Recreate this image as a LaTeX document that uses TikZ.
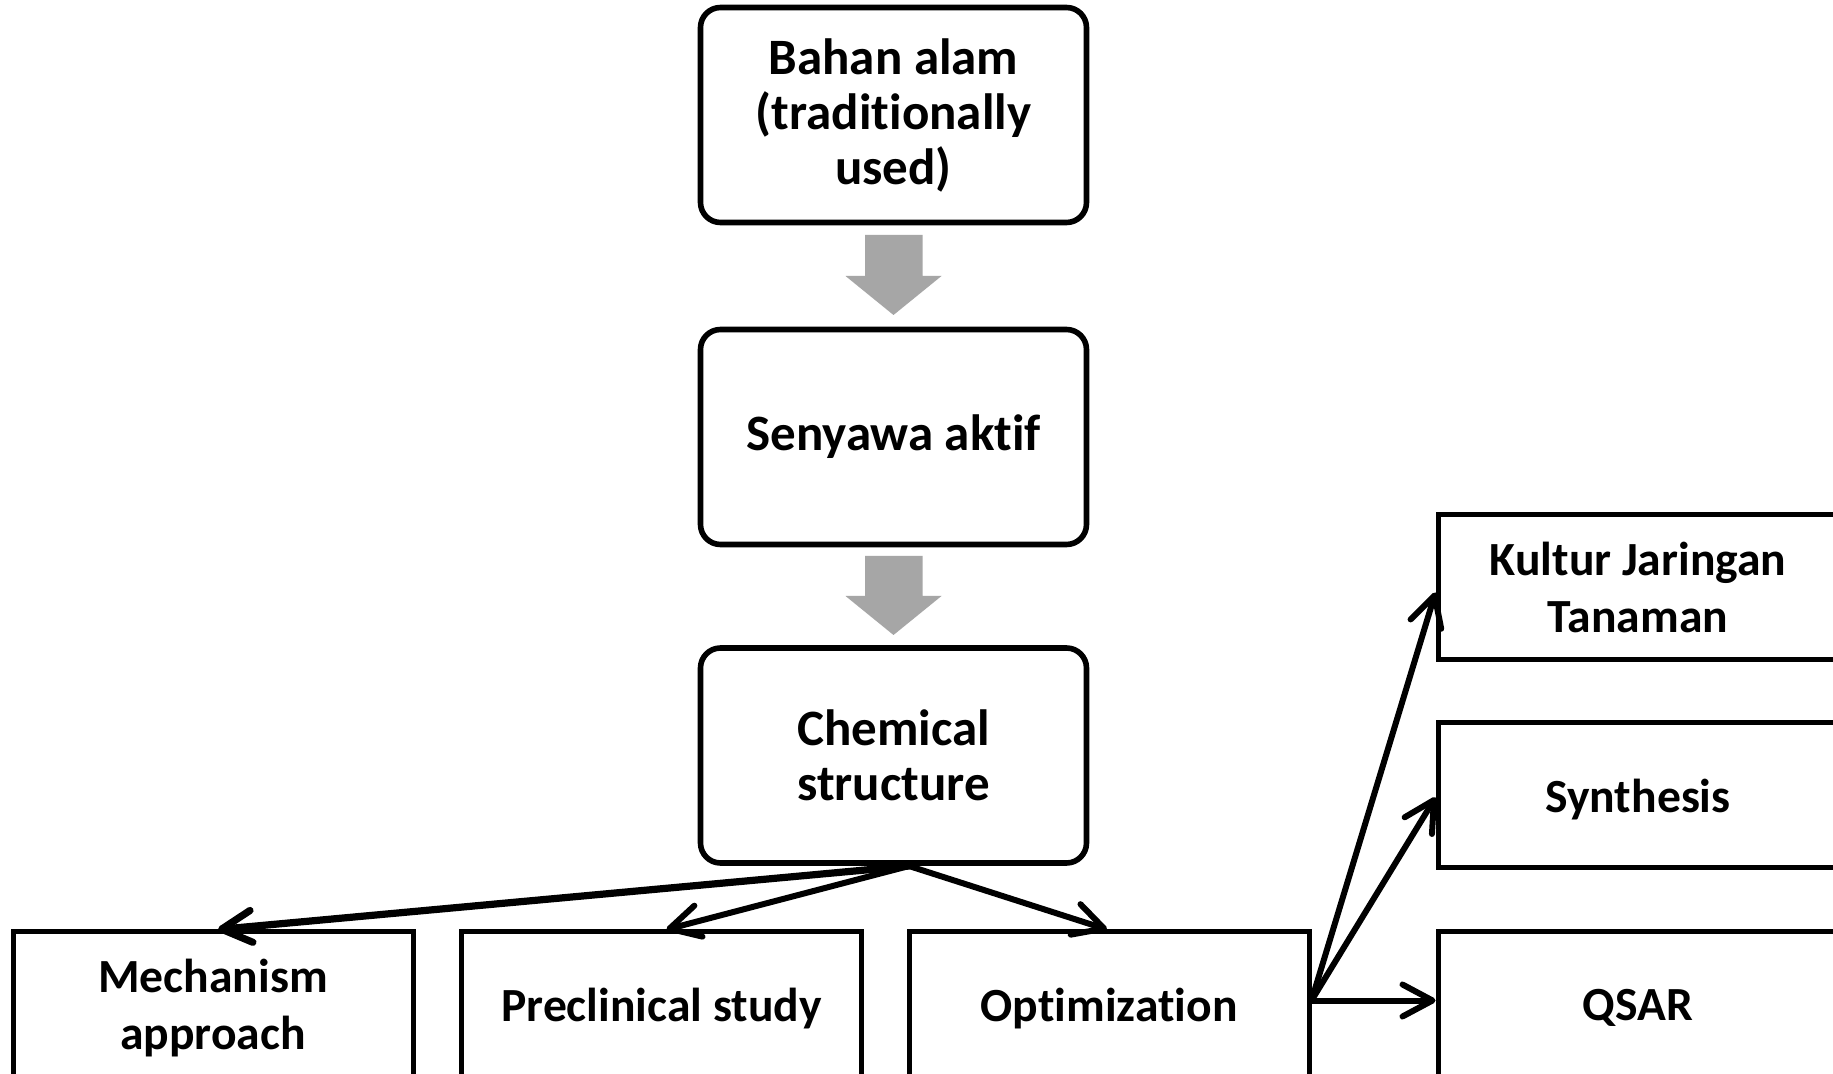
\documentclass[tikz,border=0pt]{standalone}
\usepackage{fontspec}
\setmainfont{Carlito}[Ligatures=NoCommon]
\usetikzlibrary{arrows.meta}
\definecolor{blockgray}{HTML}{A6A6A6}
\tikzset{
  txt/.style={font=\fontsize{25.5}{27.5}\selectfont\bfseries, align=center, inner sep=0pt},
  rbox/.style={txt, draw=black, line width=2.8pt, rounded corners=10pt,
               minimum width=193pt, minimum height=107.5pt},
  sbox/.style={txt, font=\fontsize{23.8}{28.5}\selectfont\bfseries, text depth=0pt,
               draw=black, line width=2.5pt,
               minimum width=200pt, minimum height=72.5pt},
  conn/.style={draw=black, line width=3pt, line cap=round,
               -{Straight Barb[length=15pt, width=16pt, line cap=round, line join=round]}},
  blockarrow/.style={fill=blockgray, draw=none}
}
\begin{document}
\begin{tikzpicture}[x=0.5pt, y=-0.5pt]
\useasboundingbox (0,0) rectangle (1833,1074);
\clip (0,0) rectangle (1833,1074);
\fill[white] (0,0) rectangle (1833,1074);

% rounded boxes
\node[rbox] (bahan) at (893.5,115) {Bahan alam\\(traditionally\\used)};
\node[rbox] (seny) at (893.5,437) {Senyawa aktif};
\node[rbox] (chem) at (893.5,755.5) {Chemical\\structure};

% block arrows
\path[blockarrow] (865,235) -- (922.5,235) -- (922.5,276) -- (941.5,276)
  -- (893.5,315) -- (845.5,276) -- (865,276) -- cycle;
\path[blockarrow] (865,556) -- (922.5,556) -- (922.5,596) -- (941.5,596)
  -- (893.5,635) -- (845.5,596) -- (865,596) -- cycle;

% bottom row
\node[sbox] (mech) at (213,1004.5) {Mechanism\\approach};
\node[sbox] (pre) at (661.5,1004.5) {Preclinical study};
\node[sbox] (opt) at (1109,1004.5) {Optimization};

% right column
\node[sbox] (kul) at (1638,587.5) {Kultur Jaringan\\Tanaman};
\node[sbox] (syn) at (1638,795.5) {Synthesis};
\node[sbox] (qsar) at (1638,1004.5) {QSAR};

% connectors
\coordinate (apex) at (909,866);
\draw[conn, line width=3.6pt] (apex) -- ([xshift=2.5pt]mech.north);
\draw[conn] (apex) -- ([xshift=2.5pt]pre.north);
\draw[conn] (apex) -- ([xshift=-1pt]opt.north);

\coordinate (ostart) at ([yshift=2pt]opt.east);
\draw[conn] (ostart) -- ([yshift=-2.5pt]kul.west);
\draw[conn] (ostart) -- ([yshift=-1pt]syn.west);
\draw[conn] (ostart) -- ([yshift=2pt]qsar.west);
\end{tikzpicture}
\end{document}
